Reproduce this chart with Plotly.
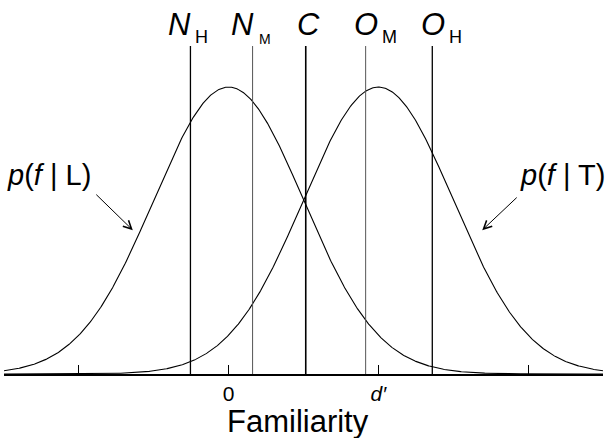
import numpy as np
import plotly.graph_objects as go

# Signal-detection model: lure (L) and target (T) familiarity distributions
means = [0.0, 2.0]          # 0 and d'
sd = 1.0
curve_names = ["p(f | L)", "p(f | T)"]

# Decision criteria along the familiarity axis
criteria_x = [-0.51, 0.32, 1.03, 1.83, 2.72]
criteria_main = ["N", "N", "C", "O", "O"]
criteria_sub = ["H", "M", "", "M", "H"]

# Axis ticks (multiples of d')
tick_vals = [-2, 0, 2, 4]
tick_text = ["", "0", "<i>d′</i>", ""]

# Styling for the criterion lines and their labels
line_style = [(1.3, "#000"), (1.0, "#555"), (1.6, "#000"), (1.0, "#555"), (1.3, "#000")]
main_shift = [-10.5, -10, 2.5, 0, 1]
sub_shift = [2.5, 4.5, 0, 14, 15]
sub_size = [18, 14, 18, 18, 18]

FONT = "Liberation Sans, Arial, Helvetica, sans-serif"

x = np.linspace(-3, 5, 801)
fig = go.Figure()
for m, name in zip(means, curve_names):
    y = np.exp(-0.5 * ((x - m) / sd) ** 2) / (sd * np.sqrt(2 * np.pi))
    fig.add_trace(go.Scatter(x=x, y=y, mode="lines", name=name,
                             line=dict(color="black", width=1.1),
                             hoverinfo="skip"))

line_top = 0.456
for i, cx in enumerate(criteria_x):
    w, col = line_style[i]
    fig.add_trace(go.Scatter(x=[cx, cx], y=[0, line_top], mode="lines",
                             line=dict(color=col, width=w), hoverinfo="skip"))
    fig.add_annotation(x=cx, y=line_top, text="<i>" + criteria_main[i] + "</i>",
                       showarrow=False, xanchor="center", yanchor="bottom",
                       xshift=main_shift[i], yshift=2,
                       font=dict(family=FONT, size=31, color="black"))
    if criteria_sub[i]:
        fig.add_annotation(x=cx, y=line_top, text=criteria_sub[i],
                           showarrow=False, xanchor="left", yanchor="bottom",
                           xshift=sub_shift[i], yshift=-3,
                           font=dict(family=FONT, size=sub_size[i], color="black"))

# Curve labels with pointer arrows
fig.add_annotation(x=-2.4, y=0.2766, text="<i>p</i>(<i>f</i> | L)", showarrow=False,
                   font=dict(family=FONT, size=29, color="black"))
fig.add_annotation(x=4.453, y=0.2766, text="<i>p</i>(<i>f</i> | T)", showarrow=False,
                   font=dict(family=FONT, size=29, color="black"))
fig.add_annotation(x=-1.28, y=0.200, ax=-38, ay=-37, text="", showarrow=True,
                   arrowhead=5, arrowsize=1.6, arrowwidth=1, arrowcolor="black")
fig.add_annotation(x=3.387, y=0.200, ax=36, ay=-34, text="", showarrow=True,
                   arrowhead=5, arrowsize=1.6, arrowwidth=1, arrowcolor="black")

# Axis title
fig.add_annotation(xref="paper", yref="paper", x=0.491, y=-0.128,
                   text="Familiarity", showarrow=False,
                   xanchor="center", yanchor="middle",
                   font=dict(family=FONT, size=31, color="black"))

fig.update_layout(
    width=609, height=438,
    margin=dict(l=4, r=6, t=0, b=64),
    paper_bgcolor="white", plot_bgcolor="white",
    showlegend=False,
    font=dict(family=FONT, color="black"),
)
fig.update_xaxes(range=[-3, 5], showgrid=False, zeroline=False,
                 showline=True, linecolor="black", linewidth=1.5,
                 ticks="inside", ticklen=9, tickwidth=1, tickcolor="black",
                 tickvals=tick_vals, ticktext=tick_text,
                 tickfont=dict(family=FONT, size=21))
fig.update_yaxes(range=[0, 0.52], visible=False)

fig.write_html("out.html")
